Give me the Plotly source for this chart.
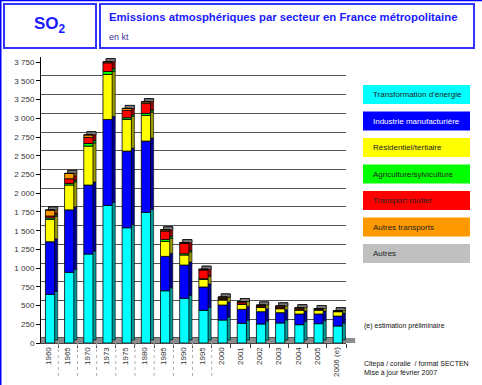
import plotly.graph_objects as go

years = ["1960", "1965", "1970", "1973", "1975", "1980", "1985", "1990", "1995",
         "2000", "2001", "2002", "2003", "2004", "2005", "2006 (e)"]

energie = [650, 944, 1188, 1838, 1539, 1745, 698, 597, 437, 307, 263, 254, 267, 245, 258, 227]
industrie = [702, 834, 922, 1148, 1024, 952, 459, 444, 311, 200, 187, 164, 138, 142, 129, 133]
residentiel = [299, 332, 520, 601, 423, 343, 200, 134, 102, 67, 67, 59, 53, 53, 53, 58]
agriculture = [20, 22, 35, 39, 22, 27, 27, 17, 8, 6, 3, 3, 3, 3, 3, 3]
routier = [25, 62, 81, 116, 98, 133, 111, 139, 117, 17, 23, 15, 19, 15, 7, 3]
autres_transports = [80, 71, 34, 15, 27, 22, 17, 9, 10, 17, 11, 12, 15, 13, 10, 6]
autres = [0, 0, 0, 0, 0, 0, 0, 0, 0, 0, 0, 0, 0, 0, 0, 0]

series_names = ["Transformation d'énergie", "Industrie manufacturière", "Résidentiel/tertiaire",
                "Agriculture/sylviculture", "Transport routier", "Autres transports", "Autres"]
series_values = [energie, industrie, residentiel, agriculture, routier, autres_transports, autres]

y_tick_vals = [0, 250, 500, 750, 1000, 1250, 1500, 1750, 2000, 2250, 2500, 2750, 3000, 3250, 3500, 3750]
y_tick_text = ["0", "250", "500", "750", "1 000", "1 250", "1 500", "1 750", "2 000", "2 250",
               "2 500", "2 750", "3 000", "3 250", "3 500", "3 750"]

front_colors = ["#00ffff", "#0000ff", "#ffff00", "#00ff00", "#ff0000", "#ff9900", "#c0c0c0"]
side_colors = ["#009999", "#000099", "#999900", "#009900", "#990000", "#995c00", "#808080"]
legend_text_colors = ["#222", "#ffffff", "#222", "#222", "#222", "#222", "#222"]

W, H = 482, 385
L, T, R_PX, B_PX = 41, 57, 346, 343
YMAX = 3820
DEPTH = 40  # 3D depth in value units
BAR_OFF, BAR_W, SIDE_SHIFT = -0.17, 0.48, 0.16
FONT = "Arial, Liberation Sans, sans-serif"


def px(x):
    return (x - L) / (R_PX - L)


def py(y):
    return (B_PX - y) / (B_PX - T)


fig = go.Figure()

n = len(years)
bases = []
cum = [0] * n
for vals in series_values:
    bases.append(list(cum))
    cum = [c + v for c, v in zip(cum, vals)]
totals = cum

# side/depth faces (behind)
for vals, base, col in zip(series_values, bases, side_colors):
    fig.add_trace(go.Bar(x=years, y=vals, base=[b + DEPTH for b in base],
                         offset=BAR_OFF + SIDE_SHIFT, width=BAR_W,
                         marker=dict(color=col, line=dict(color="#000", width=0.6)),
                         showlegend=False, hoverinfo="skip"))
# top caps
fig.add_trace(go.Bar(x=years, y=[DEPTH] * n, base=totals,
                     offset=BAR_OFF + SIDE_SHIFT, width=BAR_W,
                     marker=dict(color="#7a7a7a", line=dict(color="#000", width=0.6)),
                     showlegend=False, hoverinfo="skip"))
# front faces
for name, vals, base, col in zip(series_names, series_values, bases, front_colors):
    fig.add_trace(go.Bar(x=years, y=vals, base=base, name=name,
                         offset=BAR_OFF, width=BAR_W,
                         marker=dict(color=col, line=dict(color="#000", width=0.8)),
                         showlegend=False))

# invisible trace to host the back-wall grid axis
fig.add_trace(go.Scatter(x=[years[0]], y=[0], yaxis="y2", mode="markers",
                         marker=dict(opacity=0), showlegend=False, hoverinfo="skip"))

shapes = []
# floor
shapes.append(dict(type="rect", xref="paper", yref="y", x0=0, x1=1.03, y0=0, y1=DEPTH + 27,
                   fillcolor="#8c8c8c", line=dict(width=0), layer="below"))
# dotted category separators
for i in range(9):
    shapes.append(dict(type="line", xref="x", yref="paper", x0=i + 0.5, x1=i + 0.5,
                       y0=0, y1=py(376), line=dict(color="#b0b0b0", width=1, dash="dot")))
# outer frame (left + top)
shapes.append(dict(type="line", xref="paper", yref="paper", x0=px(0.5), x1=px(0.5),
                   y0=py(0), y1=py(385), line=dict(color="#0000ff", width=2)))
shapes.append(dict(type="line", xref="paper", yref="paper", x0=px(0), x1=px(482),
                   y0=py(0.5), y1=py(0.5), line=dict(color="#0000ff", width=1.5)))
# title boxes
shapes.append(dict(type="rect", xref="paper", yref="paper", x0=px(4), x1=px(96),
                   y0=py(4), y1=py(48), line=dict(color="#3333ff", width=2)))
shapes.append(dict(type="rect", xref="paper", yref="paper", x0=px(100), x1=px(474),
                   y0=py(4), y1=py(48), line=dict(color="#3333ff", width=2)))

annotations = []
# legend boxes
for k, (name, col, tcol) in enumerate(zip(series_names, front_colors, legend_text_colors)):
    top = 85 + 26.5 * k
    shapes.append(dict(type="rect", xref="paper", yref="paper", x0=px(363), x1=px(470),
                       y0=py(top), y1=py(top + 19), fillcolor=col, line=dict(width=0)))
    annotations.append(dict(xref="paper", yref="paper", x=px(371), y=py(top + 9.5),
                            text=name, showarrow=False, xanchor="left", yanchor="middle",
                            font=dict(size=8, color=tcol, family=FONT)))

annotations += [
    dict(xref="paper", yref="paper", x=px(50), y=py(25), text="<b>SO<sub>2</sub></b>",
         showarrow=False, xanchor="center", yanchor="middle",
         font=dict(size=17, color="#1a1aff", family=FONT)),
    dict(xref="paper", yref="paper", x=px(107), y=py(17),
         text="<b>Emissions atmosphériques par secteur en France métropolitaine</b>",
         showarrow=False, xanchor="left", yanchor="middle",
         font=dict(size=11.3, color="#1a1aff", family=FONT)),
    dict(xref="paper", yref="paper", x=px(107), y=py(37), text="en kt",
         showarrow=False, xanchor="left", yanchor="middle",
         font=dict(size=9, color="#4030a0", family=FONT)),
    dict(xref="paper", yref="paper", x=px(362), y=py(326), text="(e) estimation préliminaire",
         showarrow=False, xanchor="left", yanchor="middle",
         font=dict(size=7, color="#111", family=FONT)),
    dict(xref="paper", yref="paper", x=px(362), y=py(368),
         text="Citepa / coralie  / format SECTEN<br>Mise à jour février 2007",
         showarrow=False, xanchor="left", yanchor="middle", align="left",
         font=dict(size=7, color="#111", family=FONT)),
]

fig.update_layout(
    width=W, height=H,
    margin=dict(l=L, r=W - R_PX, t=T, b=H - B_PX, pad=0, autoexpand=False),
    paper_bgcolor="white", plot_bgcolor="white",
    barmode="overlay", bargap=0, hovermode=False,
    shapes=shapes, annotations=annotations,
    font=dict(family=FONT, size=8, color="#333"),
    xaxis=dict(type="category", range=[-0.4, 15.5], showgrid=False, showline=True,
               linecolor="#444", linewidth=1, ticks="outside", tickson="boundaries",
               ticklen=4, tickcolor="#444", tickangle=-90, automargin=False,
               tickfont=dict(size=8, color="#333")),
    yaxis=dict(range=[0, YMAX], tickvals=y_tick_vals, ticktext=y_tick_text, showgrid=False,
               zeroline=False, showline=True, linecolor="#000", linewidth=1,
               ticks="outside", ticklen=4, tickcolor="#000", automargin=False,
               tickfont=dict(size=8, color="#333")),
    yaxis2=dict(overlaying="y", range=[-(DEPTH + 27), YMAX - DEPTH - 27], tickvals=y_tick_vals,
                showticklabels=False, showgrid=True, gridcolor="#555", gridwidth=1,
                zeroline=False, showline=False, automargin=False),
)

fig.write_html("out.html", config={"displayModeBar": False, "staticPlot": True},
               post_script="document.body.style.margin='0';document.body.style.padding='0';")
